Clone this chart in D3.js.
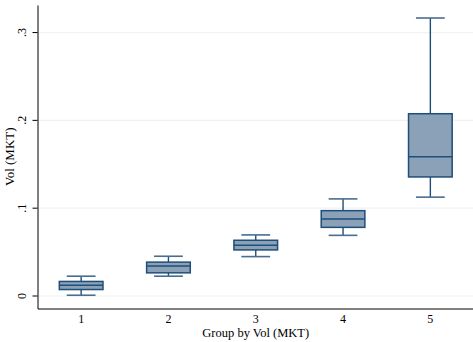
<!DOCTYPE html>
<html lang="en">
<head>
  <meta charset="UTF-8">
  <title>Vol (MKT) by group</title>
  <script src="https://d3js.org/d3.v7.min.js"></script>
  <style>
    body { margin: 0; background: #fff; }
    svg { display: block; font-family: 'Liberation Serif', 'Times New Roman', serif; }
    .grid line { stroke: #eef3f3; stroke-width: 1.2; }
    .grid path { stroke-width: 0; }
    .axis path, .axis line { stroke: #000; }
    .axis text { font-size: 12px; fill: #000; font-family: 'Liberation Serif', serif; }
  </style>
</head>
<body>
  <svg width="473" height="342"></svg>

  <script>
    // groups and box statistics
    const groups = ["1", "2", "3", "4", "5"];
    const lowWhisker = [0.0003, 0.022, 0.0443, 0.0685, 0.112];
    const q1 = [0.0068, 0.0258, 0.0519, 0.0776, 0.135];
    const median = [0.0117, 0.0335, 0.0572, 0.0871, 0.158];
    const q3 = [0.016, 0.038, 0.0629, 0.0966, 0.207];
    const highWhisker = [0.022, 0.0447, 0.069, 0.110, 0.316];
    const yTicks = [0, 0.1, 0.2, 0.3];
    const yTickLabels = ["0", ".1", ".2", ".3"];

    const data = groups.map((g, i) => ({
      g, lo: lowWhisker[i], q1: q1[i], med: median[i], q3: q3[i], hi: highWhisker[i]
    }));

    const svg = d3.select("svg");
    const plotLeft = 37.5, plotRight = 474, plotTop = 5, plotBottom = 308.5;

    const x = d3.scaleBand().domain(groups).range([plotLeft, plotRight]).padding(0);
    const y = d3.scaleLinear().domain([-0.0148, 0.3308]).range([plotBottom, plotTop]);

    const boxW = x.bandwidth() * 0.5;
    const capW = x.bandwidth() * 0.33;
    const navy = "#1f4e79";
    const fill = "#8aa1b7";

    // grid lines
    svg.append("g")
      .attr("class", "grid")
      .attr("transform", `translate(${plotLeft},0)`)
      .call(d3.axisLeft(y).tickValues(yTicks).tickSize(-(plotRight - plotLeft)).tickFormat(""));

    // boxes
    const box = svg.append("g").selectAll("g")
      .data(data)
      .enter()
      .append("g")
      .attr("transform", d => `translate(${x(d.g) + x.bandwidth() / 2},0)`);

    // whiskers
    box.append("line")
      .attr("x1", 0).attr("x2", 0)
      .attr("y1", d => y(d.q3)).attr("y2", d => y(d.hi))
      .attr("stroke", navy).attr("stroke-width", 1.4);
    box.append("line")
      .attr("x1", 0).attr("x2", 0)
      .attr("y1", d => y(d.q1)).attr("y2", d => y(d.lo))
      .attr("stroke", navy).attr("stroke-width", 1.4);
    box.append("line")
      .attr("x1", -capW / 2).attr("x2", capW / 2)
      .attr("y1", d => y(d.hi)).attr("y2", d => y(d.hi))
      .attr("stroke", "#4a6d90").attr("stroke-width", 1.6);
    box.append("line")
      .attr("x1", -capW / 2).attr("x2", capW / 2)
      .attr("y1", d => y(d.lo)).attr("y2", d => y(d.lo))
      .attr("stroke", "#4a6d90").attr("stroke-width", 1.6);

    box.append("rect")
      .attr("x", -boxW / 2)
      .attr("width", boxW)
      .attr("y", d => y(d.q3))
      .attr("height", d => y(d.q1) - y(d.q3))
      .attr("fill", fill)
      .attr("stroke", navy)
      .attr("stroke-width", 1.5);

    box.append("line")
      .attr("x1", -boxW / 2).attr("x2", boxW / 2)
      .attr("y1", d => y(d.med)).attr("y2", d => y(d.med))
      .attr("stroke", navy).attr("stroke-width", 1.5);

    // y axis
    const yAxis = svg.append("g")
      .attr("class", "axis")
      .attr("transform", `translate(${plotLeft},0)`)
      .call(d3.axisLeft(y).tickValues(yTicks).tickFormat((d, i) => yTickLabels[i]).tickSize(5).tickSizeOuter(0));
    yAxis.selectAll("text")
      .attr("transform", "rotate(-90)")
      .attr("x", 0)
      .attr("y", -11.5)
      .attr("dy", "0")
      .style("text-anchor", "middle");

    // x axis (no tick marks in the reference)
    svg.append("g")
      .attr("class", "axis")
      .attr("transform", `translate(0,${plotBottom})`)
      .call(d3.axisBottom(x).tickSize(0).tickSizeOuter(0))
      .selectAll("text")
      .attr("y", 6);

    // axis titles
    svg.append("text")
      .attr("x", (plotLeft + plotRight) / 2)
      .attr("y", 337)
      .attr("text-anchor", "middle")
      .style("font-size", "12.5px")
      .text("Group by Vol (MKT)");

    svg.append("text")
      .attr("transform", "rotate(-90)")
      .attr("x", -(plotTop + plotBottom) / 2)
      .attr("y", 13.5)
      .attr("text-anchor", "middle")
      .style("font-size", "13px")
      .text("Vol (MKT)");
  </script>
</body>
</html>
